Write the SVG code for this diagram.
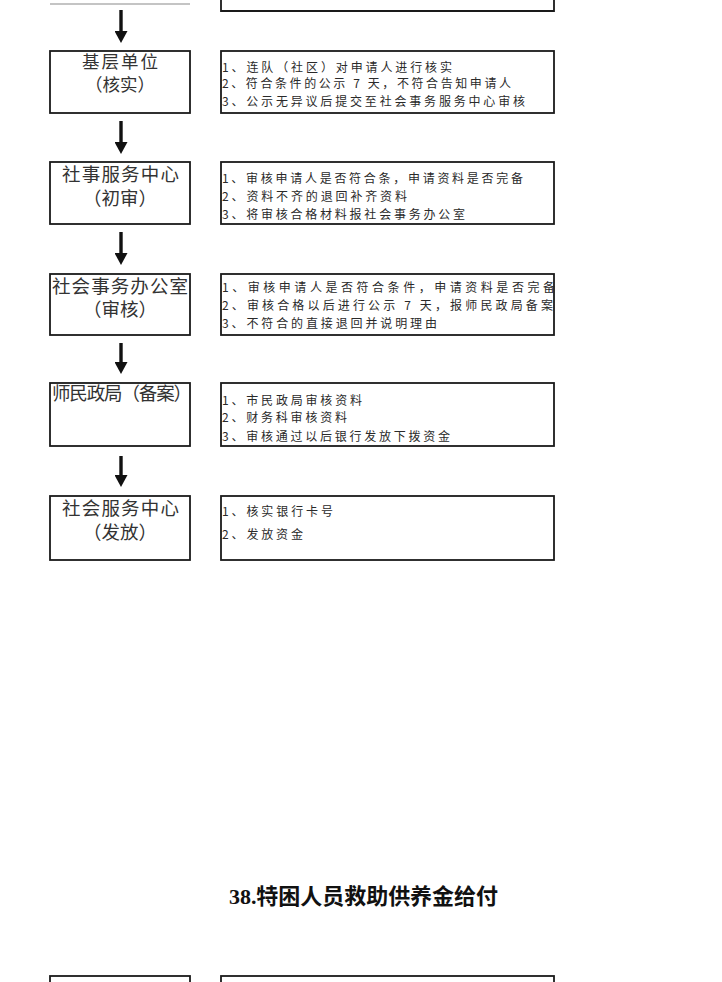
<svg xmlns="http://www.w3.org/2000/svg" width="722" height="982" viewBox="0 0 722 982">
<style>
.bx{fill:#fff;stroke:#1a1a1a;stroke-width:1.8}
.lt{font-family:"Noto Sans CJK SC","Noto Sans",sans-serif;font-size:18.5px;fill:#333;text-anchor:middle}
.rt{font-family:"Noto Sans CJK SC","Noto Sans",sans-serif;font-size:12px;fill:#2a2a2a}
.ar{stroke:#111;stroke-width:3.4;fill:none}
.ttl{font-family:"Liberation Serif","Noto Sans CJK SC",serif;font-size:22px;font-weight:bold;fill:#111}
</style>
<defs>
<marker id="ah" markerUnits="userSpaceOnUse" markerWidth="13" markerHeight="13" refX="1" refY="6.5" orient="auto" viewBox="0 0 13 13">
<path d="M0,0 L12,6.5 L0,13 Z" fill="#111"/>
</marker>
</defs>
<rect width="722" height="982" fill="#fff"/>

<g id="prev-left"><line x1="50" y1="4" x2="190" y2="4" stroke="#c4c4c4" stroke-width="2"/></g>
<g id="prev-right"><path d="M221,0 V11 H554 V0" class="bx" fill="none"/></g>

<g id="connectors">
<line class="ar" x1="121" y1="10" x2="121" y2="32" marker-end="url(#ah)"/>
<line class="ar" x1="121" y1="121" x2="121" y2="143" marker-end="url(#ah)"/>
<line class="ar" x1="121" y1="232" x2="121" y2="254" marker-end="url(#ah)"/>
<line class="ar" x1="121" y1="343" x2="121" y2="363" marker-end="url(#ah)"/>
<line class="ar" x1="121" y1="456" x2="121" y2="476" marker-end="url(#ah)"/>
</g>

<g id="n1">
<rect class="bx" x="50" y="51" width="140" height="62"/>
<text class="lt" x="120" y="67.5" textLength="76" style="font-size:17.5px">基层单位</text>
<text class="lt" x="120" y="91" style="font-size:17.5px">（核实）</text>
</g>
<g id="d1">
<rect class="bx" x="221" y="51" width="333" height="62"/>
<text class="rt" x="222" y="71.5" textLength="230">1、连队（社区）对申请人进行核实</text>
<text class="rt" x="222" y="88" textLength="289">2、符合条件的公示 7 天，不符合告知申请人</text>
<text class="rt" x="222" y="105.5" textLength="303">3、公示无异议后提交至社会事务服务中心审核</text>
</g>

<g id="n2">
<rect class="bx" x="50" y="162" width="140" height="62"/>
<text class="lt" x="120.5" y="180.5" textLength="117">社事服务中心</text>
<text class="lt" x="120" y="205">（初审）</text>
</g>
<g id="d2">
<rect class="bx" x="221" y="162" width="333" height="62"/>
<text class="rt" x="222" y="183" textLength="301">1、审核申请人是否符合条，申请资料是否完备</text>
<text class="rt" x="222" y="201" textLength="185">2、资料不齐的退回补齐资料</text>
<text class="rt" x="222" y="219" textLength="243">3、将审核合格材料报社会事务办公室</text>
</g>

<g id="n3">
<rect class="bx" x="50" y="274" width="140" height="61"/>
<text class="lt" x="120" y="292.5" textLength="136">社会事务办公室</text>
<text class="lt" x="120" y="316">（审核）</text>
</g>
<g id="d3">
<rect class="bx" x="221" y="274" width="333" height="61"/>
<text class="rt" x="222" y="292" textLength="333">1、审核申请人是否符合条件，申请资料是否完备</text>
<text class="rt" x="222" y="309.5" textLength="331">2、审核合格以后进行公示 7 天，报师民政局备案</text>
<text class="rt" x="222" y="327.5" textLength="215">3、不符合的直接退回并说明理由</text>
</g>

<g id="n4">
<rect class="bx" x="50" y="383" width="140" height="63"/>
<text class="lt" x="52" y="400" textLength="140" style="text-anchor:start">师民政局（备案）</text>
</g>
<g id="d4">
<rect class="bx" x="221" y="383" width="333" height="63"/>
<text class="rt" x="222" y="404.5" textLength="140">1、市民政局审核资料</text>
<text class="rt" x="222" y="421.5" textLength="125">2、财务科审核资料</text>
<text class="rt" x="222" y="441" textLength="228">3、审核通过以后银行发放下拨资金</text>
</g>

<g id="n5">
<rect class="bx" x="50" y="496" width="140" height="64"/>
<text class="lt" x="120.5" y="515" textLength="117">社会服务中心</text>
<text class="lt" x="120" y="538.5">（发放）</text>
</g>
<g id="d5">
<rect class="bx" x="221" y="496" width="333" height="64"/>
<text class="rt" x="222" y="516" textLength="111">1、核实银行卡号</text>
<text class="rt" x="222" y="539" textLength="81">2、发放资金</text>
</g>

<g id="title">
<text class="ttl" x="229" y="904" textLength="269">38.特困人员救助供养金给付</text>
</g>

<g id="next-left"><rect class="bx" x="50" y="976" width="140" height="20"/></g>
<g id="next-right"><rect class="bx" x="221" y="976" width="333" height="20"/></g>
</svg>
